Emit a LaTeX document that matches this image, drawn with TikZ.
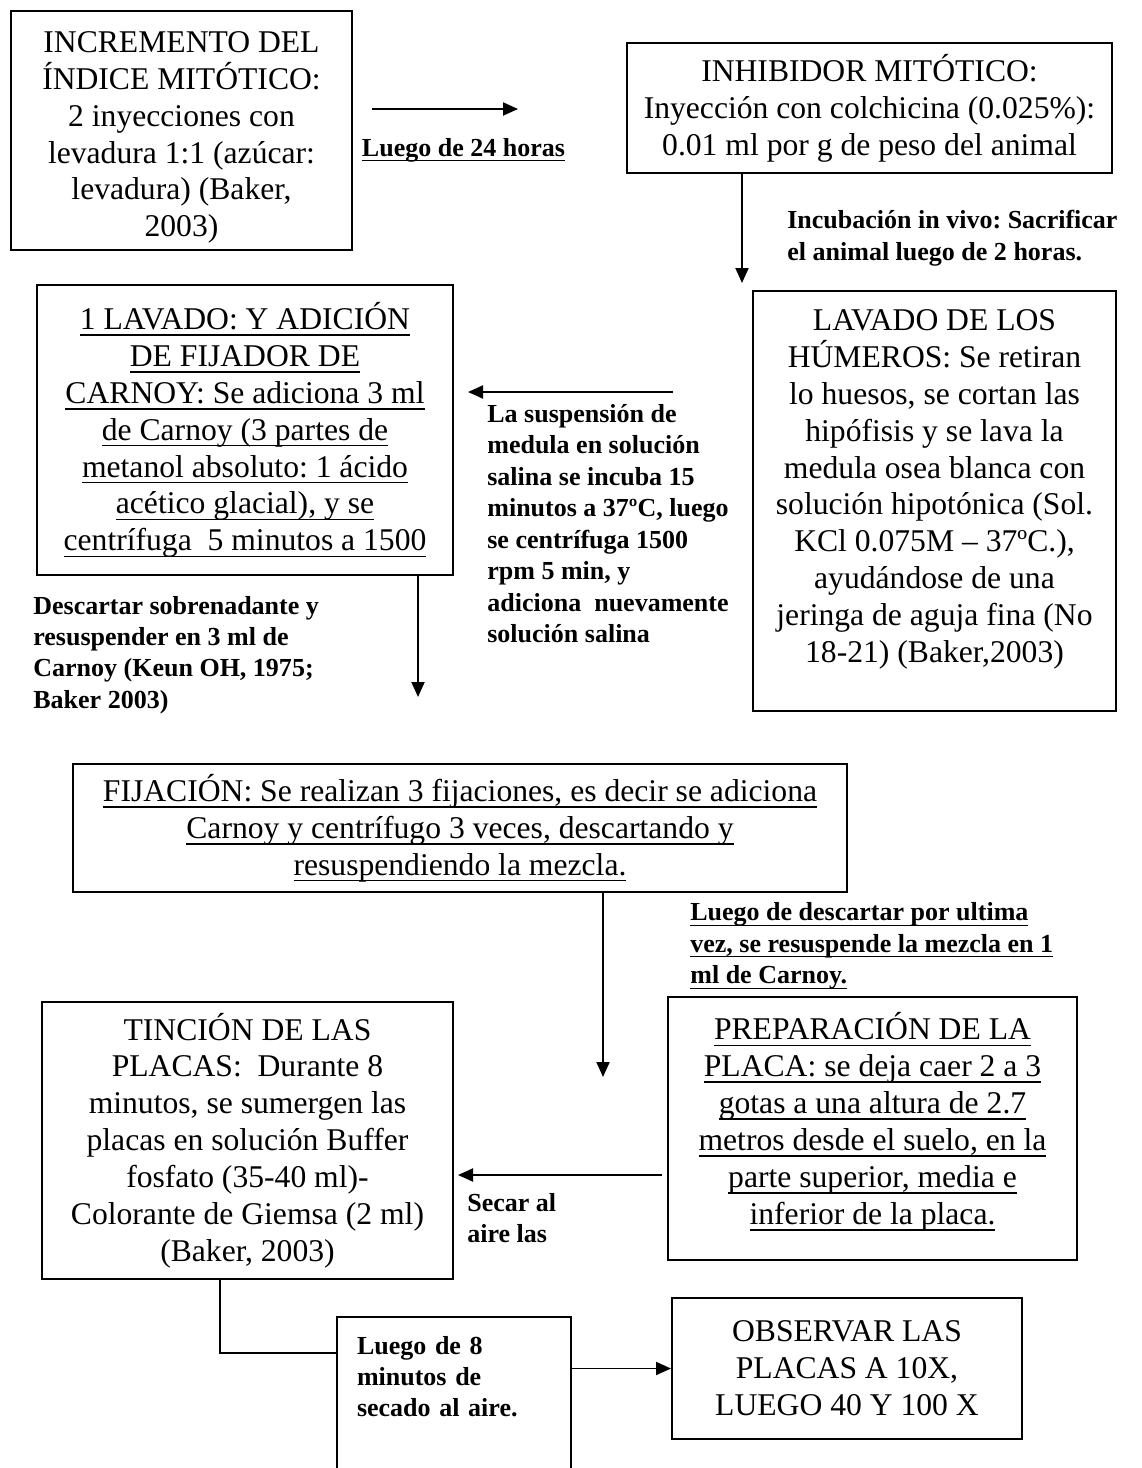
\documentclass[tikz,border=0pt]{standalone}
\usepackage{fontspec}
\setmainfont{Liberation Serif}
\usetikzlibrary{arrows.meta}
\frenchspacing
\newcommand{\hondo}[1]{\rule[-#1]{0pt}{0pt}}
\newcommand{\alto}[1]{\rule{0pt}{#1}}
\newcommand{\rayado}[1]{\setbox0\hbox{#1}\rlap{\rule[-0.2em]{\wd0}{0.05em}}\box0}

\begin{document}
\begin{tikzpicture}[
  caja/.style={draw=black, line width=1.1pt, align=center, inner sep=0pt, font=\fontsize{18}{21}\selectfont},
  etiqueta/.style={align=left, inner sep=0pt, font=\fontsize{14.8}{17.9}\selectfont\bfseries},
  flecha/.style={line width=1.1pt, -{Triangle[length=0.3cm,width=0.26cm]}},
  linea/.style={line width=1.1pt}
]
\path [use as bounding box, fill=white] (0,0) rectangle (22.84,-29.36);
\clip (0,0) rectangle (22.84,-29.36);

\node [caja, minimum width=6.82cm, minimum height=4.78cm] (incremento) at (3.63,-2.61) {\alto{0.7cm}INCREMENTO DEL\\ ÍNDICE MITÓTICO:\\ 2 inyecciones con\\ levadura 1:1 (azúcar:\\ levadura) (Baker,\\ 2003)};
\node [caja, minimum width=9.7cm, minimum height=2.6cm] (inhibidor) at (17.39,-2.16) {INHIBIDOR MITÓTICO:\\ Inyección con colchicina (0.025\%):\\ 0.01 ml por g de peso del animal};
\node [caja, minimum width=7.26cm, minimum height=8.4cm] (humeros) at (18.69,-10.02) {LAVADO DE LOS\\ HÚMEROS: Se retiran\\ lo huesos, se cortan las\\ hipófisis y se lava la\\ medula osea blanca con\\ solución hipotónica (Sol.\\ KCl 0.075M – 37ºC.),\\ ayudándose de una\\ jeringa de aguja fina (No\\ 18-21) (Baker,2003)\hondo{0.6cm}};
\node [caja, minimum width=8.32cm, minimum height=5.8cm] (carnoy) at (4.9,-8.6) {\rayado{1 LAVADO: Y ADICIÓN}\\ \rayado{DE FIJADOR DE}\\ \rayado{CARNOY: Se adiciona 3 ml}\\ \rayado{de Carnoy (3 partes de}\\ \rayado{metanol absoluto: 1 ácido}\\ \rayado{acético glacial), y se}\\ \rayado{centrífuga\ \ 5 minutos a 1500}};
\node [caja, minimum width=15.48cm, minimum height=2.56cm] (fijacion) at (9.2,-16.56) {\rayado{FIJACIÓN: Se realizan 3 fijaciones, es decir se adiciona}\\ \rayado{Carnoy y centrífugo 3 veces, descartando y}\\ \rayado{resuspendiendo la mezcla.}};
\node [caja, minimum width=8.18cm, minimum height=5.26cm] (placa) at (17.45,-22.57) {\rayado{PREPARACIÓN DE LA}\\ \rayado{PLACA: se deja caer 2 a 3}\\ \rayado{gotas a una altura de 2.7}\\ \rayado{metros desde el suelo, en la}\\ \rayado{parte superior, media e}\\ \rayado{inferior de la placa.}\hondo{0.4cm}};
\node [caja, minimum width=8.22cm, minimum height=5.54cm] (tincion) at (4.95,-22.81) {TINCIÓN DE LAS\\ PLACAS:\ \ Durante 8\\ minutos, se sumergen las\\ placas en solución Buffer\\ fosfato (35-40 ml)-\\ Colorante de Giemsa (2 ml)\\ (Baker, 2003)};
\node [caja, font=\fontsize{14.8}{17.9}\selectfont\bfseries, align=left, text width=3.88cm, minimum width=4.68cm, minimum height=4.06cm] (secado) at (9.08,-28.37) {Luego de 8\\ minutos de\\ secado al aire.\hondo{1.68cm}};
\node [caja, minimum width=7.0cm, minimum height=2.82cm] (observar) at (16.94,-27.37) {OBSERVAR LAS\\ PLACAS A 10X,\\ LUEGO 40 Y 100 X};

\node [etiqueta] (veinticuatro) at (9.27,-3.0) {\rayado{Luego de 24 horas}};
\node [etiqueta, anchor=west] (sacrificio) at (15.74,-4.76) {Incubación in vivo: Sacrificar\\ el animal luego de 2 horas.};
\node [etiqueta, anchor=west] (suspension) at (9.74,-10.47) {La suspensión de\\ medula en solución\\ salina se incuba 15\\ minutos a 37ºC, luego\\ se centrífuga 1500\\ rpm 5 min, y\\ adiciona\ \ nuevamente\\ solución salina};
\node [etiqueta, anchor=west] (descartar) at (0.66,-13.1) {Descartar sobrenadante y\\ resuspender en 3 ml de\\ Carnoy (Keun OH, 1975;\\ Baker 2003)};
\node [etiqueta, anchor=west] (ultima) at (13.8,-18.92) {\rayado{Luego de descartar por ultima}\\ \rayado{vez, se resuspende la mezcla en 1}\\ \rayado{ml de Carnoy.}};
\node [etiqueta, anchor=west] (secar) at (9.34,-24.36) {Secar al\\ aire las};

\coordinate (ab1) at (7.44,-2.18);
\coordinate (ab2) at (10.36,-2.18);
\coordinate (bc) at (14.84,-5.66);
\coordinate (cd1) at (13.46,-7.84);
\coordinate (cd2) at (9.36,-7.84);
\coordinate (de) at (8.36,-13.94);
\coordinate (ef) at (12.06,-21.54);
\coordinate (fg1) at (13.24,-23.5);
\coordinate (fg2) at (9.16,-23.5);
\coordinate (gh) at (4.4,-27.06);

\draw [flecha] (ab1) -- (ab2);
\draw [flecha] (inhibidor.south -| bc) -- (bc);
\draw [flecha] (cd1) -- (cd2);
\draw [flecha] (carnoy.south -| de) -- (de);
\draw [flecha] (fijacion.south -| ef) -- (ef);
\draw [flecha] (fg1) -- (fg2);
\draw [linea] (tincion.south -| gh) -- (gh) -- (gh -| secado.west);
\draw [flecha] (secado.east |- observar.west) -- (observar.west);
\end{tikzpicture}
\end{document}
